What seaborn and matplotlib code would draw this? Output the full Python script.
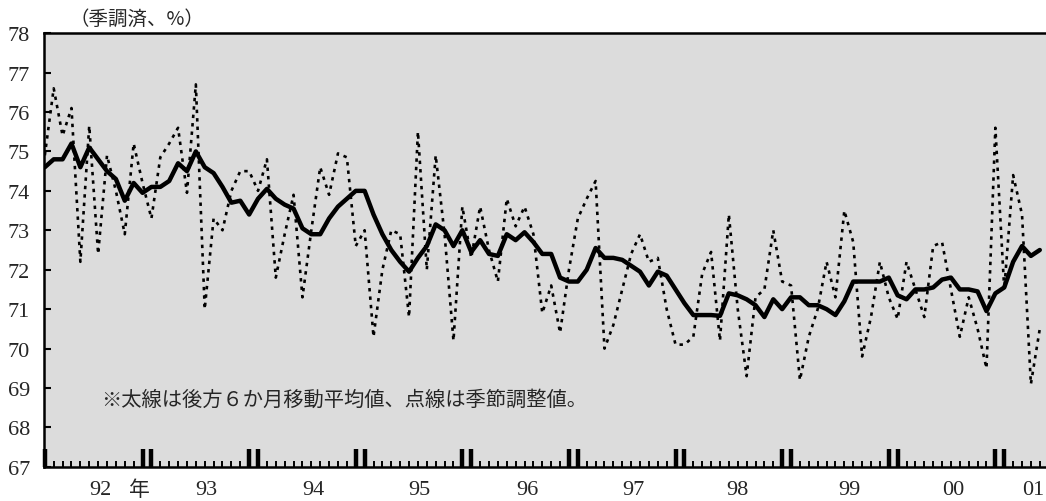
import matplotlib
matplotlib.use('Agg')
import matplotlib.pyplot as plt
import numpy as np
import pandas as pd
import seaborn as sb

# seasonally adjusted values (dotted), monthly from Jan 1992 to May 2001
sa_values = [74.9, 76.6, 75.4, 76.1, 72.2, 75.65, 72.4, 74.9, 74.0, 72.9, 75.2, 74.2,
             73.3, 74.85, 75.2, 75.6, 73.95, 76.7, 71.0, 73.3, 73.0, 74.0, 74.5, 74.5,
             74.0, 74.8, 71.8, 72.9, 73.9, 71.3, 73.0, 74.6, 73.9, 74.95, 74.85, 72.6,
             73.0, 70.3, 72.0, 73.0, 72.9, 70.8, 75.5, 72.0, 74.9, 72.9, 70.2, 73.6,
             72.3, 73.6, 72.5, 71.7, 73.8, 73.1, 73.6, 72.9, 70.9, 71.6, 70.4, 72.0,
             73.3, 73.8, 74.25, 70.0, 70.6, 71.5, 72.4, 72.9, 72.2, 72.3, 71.0, 70.1,
             70.1, 70.3, 71.9, 72.45, 70.2, 73.4, 71.0, 69.3, 71.3, 71.5, 73.0, 71.7,
             71.6, 69.2, 70.3, 71.0, 72.2, 71.3, 73.5, 72.7, 69.8, 70.8, 72.2, 71.3,
             70.75, 72.2, 71.5, 70.8, 72.6, 72.7, 71.5, 70.3, 71.3, 70.5, 69.5, 75.6,
             71.5, 74.4, 73.4, 69.1, 70.5]

# 6-month trailing moving average (thick line)
ma_values = [74.6, 74.8, 74.8, 75.2, 74.6, 75.1, 74.8, 74.5, 74.3, 73.75, 74.2, 73.95,
             74.1, 74.1, 74.25, 74.7, 74.5, 75.0, 74.6, 74.45, 74.1, 73.7, 73.75, 73.4,
             73.8, 74.05, 73.8, 73.65, 73.55, 73.05, 72.9, 72.9, 73.3, 73.6, 73.8, 74.0,
             74.0, 73.4, 72.9, 72.5, 72.2, 71.95, 72.3, 72.6, 73.15, 73.0, 72.6, 73.0,
             72.45, 72.75, 72.4, 72.35, 72.9, 72.75, 72.95, 72.7, 72.4, 72.4, 71.8, 71.7,
             71.7, 72.0, 72.55, 72.3, 72.3, 72.25, 72.1, 71.95, 71.6, 71.95, 71.85, 71.5,
             71.15, 70.85, 70.85, 70.85, 70.83, 71.4, 71.35, 71.25, 71.1, 70.8, 71.25, 71.0,
             71.3, 71.3, 71.1, 71.1, 71.0, 70.85, 71.2, 71.7, 71.7, 71.7, 71.7, 71.8,
             71.35, 71.25, 71.5, 71.5, 71.55, 71.75, 71.8, 71.5, 71.5, 71.45, 70.95, 71.4,
             71.55, 72.2, 72.6, 72.35, 72.5]

year_labels = ["92", "93", "94", "95", "96", "97", "98", "99", "00", "01"]
year_label_pos = [6.2, 18.2, 30.2, 42.2, 54.3, 66.2, 78.0, 90.6, 102.3, 111.3]

df = pd.DataFrame({"month": np.arange(len(sa_values)),
                   "sa": sa_values, "ma": ma_values})

sb.set_style("white")
plt.rcParams['font.family'] = ['Liberation Serif', 'Noto Sans CJK JP']
jp = ['Noto Sans CJK JP', 'Liberation Serif']

fig = plt.figure(figsize=(10.46, 5.02), dpi=100)
ax = fig.add_axes([0.042, 0.068, 0.958, 0.864])
ax.set_facecolor("#dcdcdc")

sb.lineplot(data=df, x="month", y="sa", ax=ax, color="black", linewidth=1.9,
            linestyle=(0, (1.3, 1.9)))
sb.lineplot(data=df, x="month", y="ma", ax=ax, color="black", linewidth=3.2)

ax.set_xlim(-0.1, 112.7)
ax.set_ylim(67, 78)
ax.set_xlabel("")
ax.set_ylabel("")

#spines
for s in ["left", "bottom", "top"]:
    ax.spines[s].set_linewidth(1.8)
    ax.spines[s].set_color("black")
ax.spines["right"].set_visible(False)

#y ticks
ax.set_yticks(range(67, 79))
ax.tick_params(axis="y", left=True, direction="in", length=5, width=1.5,
               labelsize=16, pad=10, color="black")

#x ticks: monthly small, double tall at year change
year_ticks = [0] + [p for k in range(1, 10) for p in (12 * k - 1, 12 * k)]
ax.set_xticks(year_ticks)
ax.set_xticklabels([])
ax.set_xticks(range(0, 113), minor=True)
ax.tick_params(axis="x", which="both", bottom=True, color="black")
ax.tick_params(axis="x", which="major", direction="in", length=13, width=3.2)
ax.tick_params(axis="x", which="minor", direction="in", length=4.5, width=1.4)

trans = ax.get_xaxis_transform()
for lab, pos in zip(year_labels, year_label_pos):
    ax.text(pos, -0.052, lab, transform=trans, ha="center", va="center", fontsize=16)
ax.text(10.7, -0.05, "年", transform=trans, ha="center", va="center",
        fontsize=15, family=jp)

fig.text(0.066, 0.962, "（季調済、%）", ha="left", va="center", fontsize=14, family=jp)
ax.text(6.3, 68.72, "※太線は後方６か月移動平均値、点線は季節調整値。", ha="left", va="center",
        fontsize=14.6, family=jp)

fig.savefig("out.png", dpi=100, facecolor="white")
